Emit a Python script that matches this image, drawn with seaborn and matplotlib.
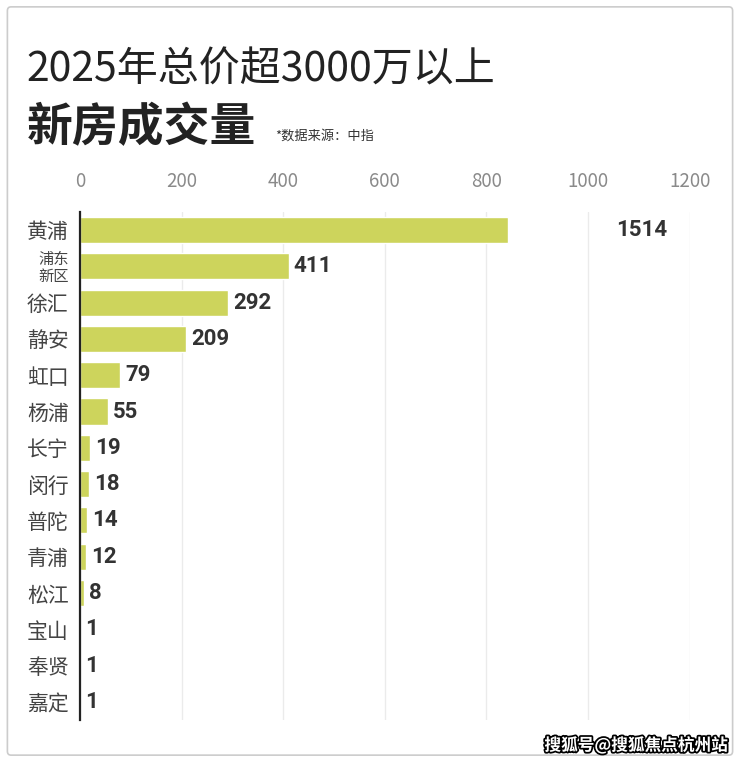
import numpy as np
import pandas as pd
import matplotlib.pyplot as plt
import matplotlib.patheffects as pe
from matplotlib.patches import FancyBboxPatch
import seaborn as sns

# data
districts = ['黄浦', '浦东\n新区', '徐汇', '静安', '虹口', '杨浦', '长宁',
             '闵行', '普陀', '青浦', '松江', '宝山', '奉贤', '嘉定']
sales = [1514, 411, 292, 209, 79, 55, 19, 18, 14, 12, 8, 1, 1, 1]
x_ticks = [0, 200, 400, 600, 800, 1000, 1200]

# the first bar is cut short (broken bar), its label sits far right
bar_cap = 843
big_label_x = 1105

df = pd.DataFrame({'district': districts, 'sales': sales})
df['shown'] = np.minimum(df['sales'], bar_cap)

sns.set_theme(style='white')
plt.rcParams['font.family'] = ['Noto Sans CJK SC', 'DejaVu Sans']

fig = plt.figure(figsize=(7.4, 7.62), dpi=100)
ax = fig.add_axes([0.108, 0.055, 0.824, 0.667])

sns.barplot(data=df, x='shown', y='district', orient='h', color='#cdd45c',
            saturation=1, width=0.72, ax=ax)

ax.set_xlim(0, 1200)
ax.set_xticks(x_ticks)
ax.xaxis.tick_top()
ax.tick_params(axis='x', length=0, pad=14, labelsize=13.5, labelcolor='#8a8a8a')
ax.tick_params(axis='y', length=0, pad=8, labelsize=15, labelcolor='#444444')
ax.set_xlabel('')
ax.set_ylabel('')
ax.grid(axis='x', color='#ebebeb', linewidth=1)
ax.set_axisbelow(True)
for s in ['top', 'right', 'bottom']:
    ax.spines[s].set_visible(False)
ax.spines['left'].set_color('#222222')
ax.spines['left'].set_linewidth(1.6)

for lab in ax.get_yticklabels():
    if '\n' in lab.get_text():
        lab.set_fontsize(11)
        lab.set_linespacing(1.0)

# value labels
for i, (v, s) in enumerate(zip(df['sales'], df['shown'])):
    xpos = big_label_x if v > s else s + 10
    ha = 'center' if v > s else 'left'
    ax.text(xpos, i, str(v), ha=ha, va='center', fontsize=16,
            fontweight='bold', color='#333333', family=['Roboto', 'DejaVu Sans'])

# titles
fig.text(0.036, 0.908, '2025年总价超3000万以上', fontsize=29.5, color='#222222',
         va='center', ha='left')
fig.text(0.036, 0.832, '新房成交量', fontsize=33, fontweight='bold', color='#222222',
         va='center', ha='left')
fig.text(0.372, 0.821, '*数据来源：中指', fontsize=9.5, color='#333333',
         va='center', ha='left')

# watermark
fig.text(0.983, 0.022, '搜狐号@搜狐焦点杭州站', fontsize=12, fontweight='bold',
         color='white', ha='right', va='center',
         path_effects=[pe.withStroke(linewidth=2.5, foreground='black')])

# frame
fig.patches.append(FancyBboxPatch((0.01, 0.009), 0.98, 0.982,
                                  boxstyle='round,pad=0,rounding_size=0.005',
                                  transform=fig.transFigure, fill=False,
                                  edgecolor='#cccccc', linewidth=1.2))

fig.savefig('out.png', dpi=100)
